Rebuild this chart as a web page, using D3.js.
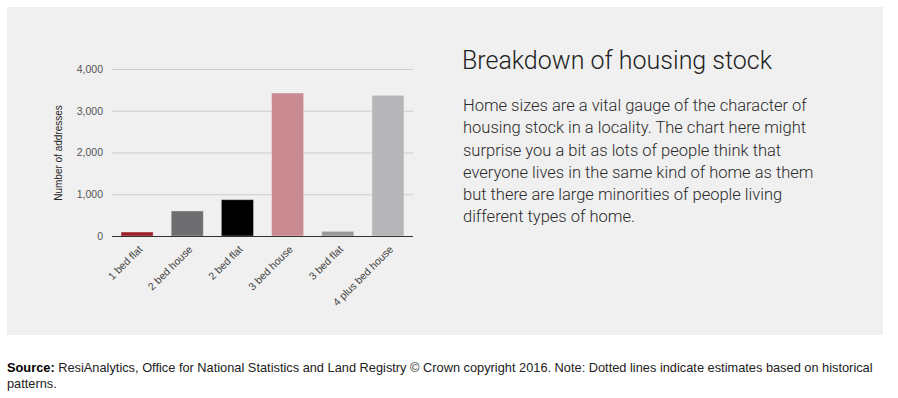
<!DOCTYPE html>
<html>
<head>
<meta charset="utf-8">
<script src="https://cdn.jsdelivr.net/npm/d3@7"></script>
<style>
  html, body { margin: 0; padding: 0; background: #fff; }
  body { width: 898px; height: 398px; position: relative; overflow: hidden; font-family: "Liberation Sans", Arial, sans-serif; }
  #panel { position: absolute; left: 7px; top: 7px; width: 876px; height: 328px; background: #f0f0f0; }
  svg { position: absolute; left: 0; top: 0; }
  #title { position: absolute; left: 462px; top: 46px; font-family: Roboto, "Liberation Sans", sans-serif; font-weight: 300; font-size: 25px; line-height: 30px; color: #222; white-space: nowrap; }
  #desc { position: absolute; left: 463px; top: 95px; width: 420px; font-family: Roboto, "Liberation Sans", sans-serif; font-weight: 300; font-size: 16.5px; line-height: 22.3px; color: #2a2a2a; white-space: nowrap; }
  .foot { position: absolute; left: 7px; font-family: "Liberation Sans", Arial, sans-serif; font-size: 12.8px; line-height: 16px; color: #222; white-space: nowrap; }
  .foot b { color: #000; }
</style>
</head>
<body>
<div id="panel"></div>
<svg id="chart" width="898" height="398"></svg>
<div id="title">Breakdown of housing stock</div>
<div id="desc">Home sizes are a vital gauge of the character of<br>housing stock in a locality. The chart here might<br>surprise you a bit as lots of people think that<br>everyone lives in the same kind of home as them<br>but there are large minorities of people living<br>different types of home.</div>
<div class="foot" style="top:360px"><b>Source:</b> ResiAnalytics, Office for National Statistics and Land Registry © Crown copyright 2016. Note: Dotted lines indicate estimates based on historical</div>
<div class="foot" style="top:376px">patterns.</div>
<script>
const categories = ["1 bed flat", "2 bed house", "2 bed flat", "3 bed house", "3 bed flat", "4 plus bed house"];
const values = [95, 600, 870, 3425, 112, 3370];
const colors = ["#9b1d27", "#6e6e70", "#000000", "#c98b91", "#9a9a9a", "#b6b6b8"];
const yTicks = [0, 1000, 2000, 3000, 4000];
const yTitle = "Number of addresses";

const svg = d3.select("#chart");
const x = d3.scaleBand().domain(categories).range([112, 413]).paddingInner(0.36).paddingOuter(0.18);
const y = d3.scaleLinear().domain([0, 4000]).range([236, 69]);

// gridlines
svg.append("g").selectAll("line").data(yTicks.filter(d => d > 0)).join("line")
  .attr("x1", 112).attr("x2", 413)
  .attr("y1", d => y(d) + 0.5).attr("y2", d => y(d) + 0.5)
  .attr("stroke", "#cccccc").attr("stroke-width", 1);

// y axis labels
const yAxis = d3.axisLeft(y).tickValues(yTicks).tickSize(0).tickPadding(9).tickFormat(d3.format(","));
const ya = svg.append("g").attr("transform", "translate(112,0)").call(yAxis);
ya.select(".domain").remove();
ya.selectAll("text").attr("font-family", "Liberation Sans, Arial, sans-serif").attr("font-size", 10.5).attr("fill", "#555");

// bars
svg.append("g").selectAll("rect").data(categories).join("rect")
  .attr("x", d => x(d))
  .attr("width", x.bandwidth())
  .attr("y", (d, i) => y(values[i]))
  .attr("height", (d, i) => y(0) - y(values[i]))
  .attr("fill", (d, i) => colors[i])
  .attr("stroke", "rgba(255,255,255,0.35)")
  .attr("stroke-width", 1);

// baseline
svg.append("line").attr("x1", 112).attr("x2", 413).attr("y1", 236.5).attr("y2", 236.5)
  .attr("stroke", "#333").attr("stroke-width", 1);

// x axis labels
const xAxis = d3.axisBottom(x).tickSize(0).tickPadding(0);
const xa = svg.append("g").attr("transform", "translate(0,236)").call(xAxis);
xa.select(".domain").remove();
xa.selectAll("text")
  .attr("font-family", "Liberation Sans, Arial, sans-serif").attr("font-size", 10.5).attr("fill", "#444")
  .attr("text-anchor", "end").attr("dy", null).attr("y", 0)
  .attr("transform", "translate(6,14) rotate(-45)");

// y title
svg.append("text")
  .attr("transform", "translate(62,153) rotate(-90)")
  .attr("text-anchor", "middle")
  .attr("font-family", "Liberation Sans, Arial, sans-serif").attr("font-size", 10).attr("fill", "#222")
  .text(yTitle);
</script>
</body>
</html>
